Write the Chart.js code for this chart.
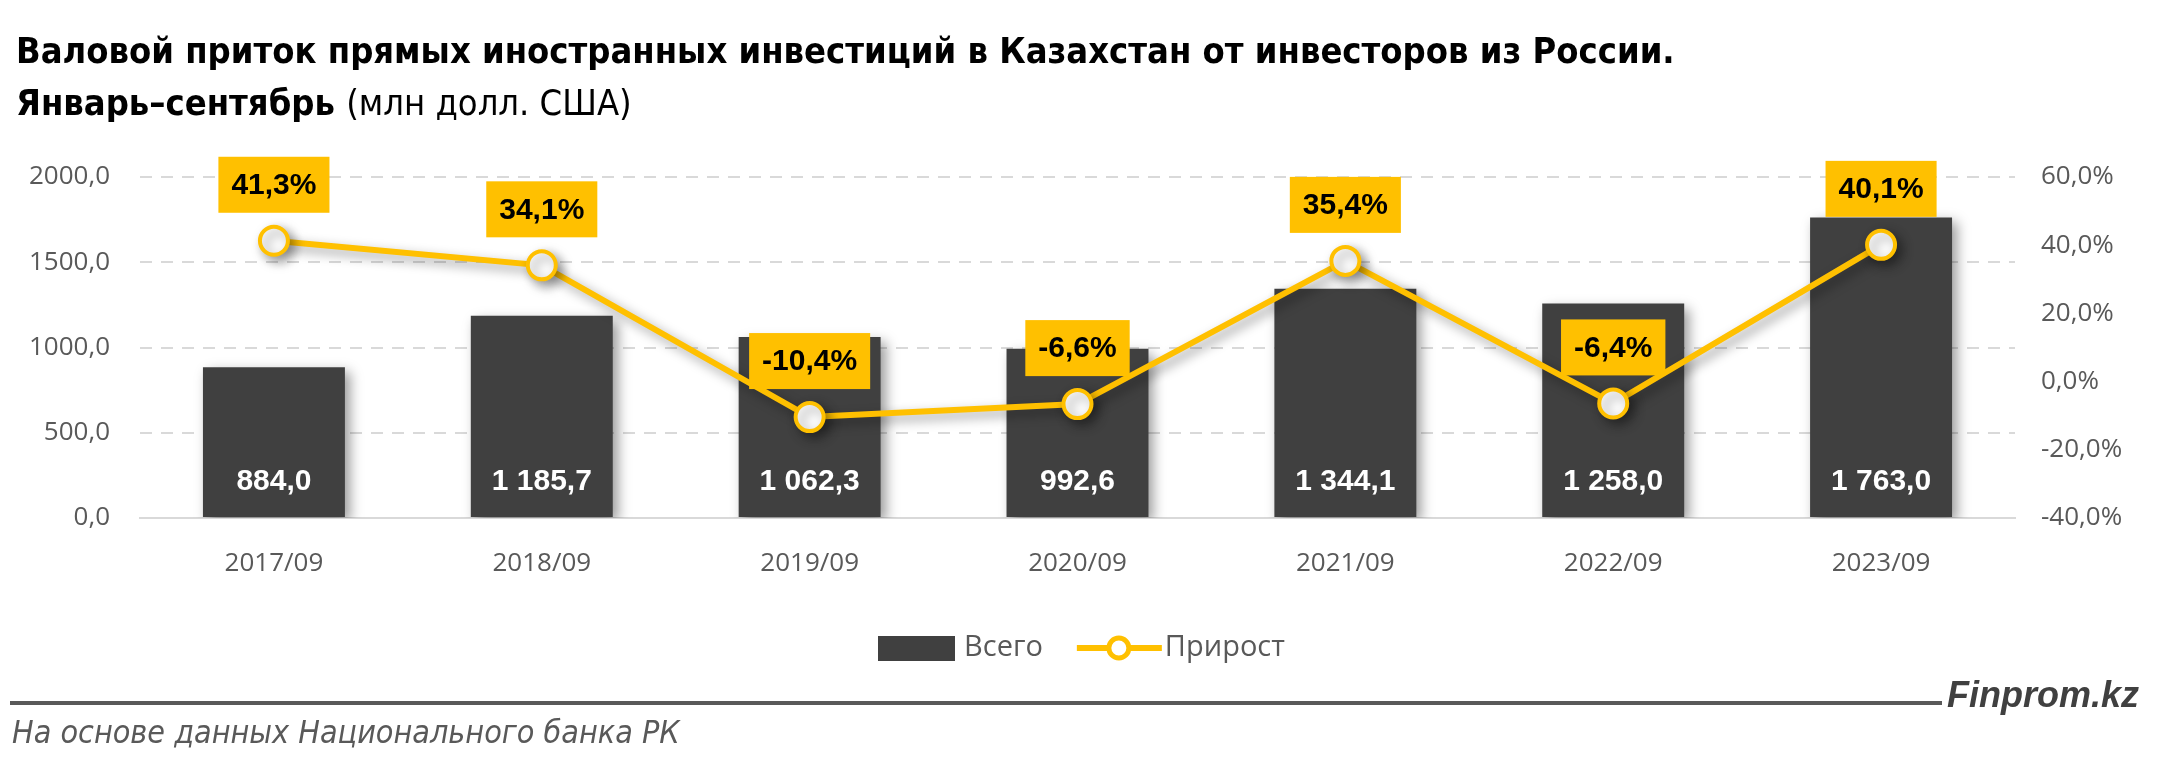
<!DOCTYPE html>
<html>
<head>
<meta charset="utf-8">
<script src="https://cdn.jsdelivr.net/npm/chart.js@4.4.0/dist/chart.umd.min.js"></script>
<style>
html, body { margin: 0; padding: 0; background: #fff; width: 2160px; height: 774px; overflow: hidden; }
#wrap { position: relative; width: 2160px; height: 774px; }
#chart { position: absolute; left: 0; top: 0; }
.title { position: absolute; left: 16px; top: 25px; font-family: "Liberation Sans Narrow", "DejaVu Sans Condensed", sans-serif; font-size: 36px; line-height: 52px; color: #000; font-weight: bold; white-space: nowrap; }
.title .unit { font-weight: normal; }
.rule { position: absolute; left: 10px; top: 701px; width: 1932px; height: 4px; background: #595959; }
.brand { position: absolute; left: 1947px; top: 674px; font-family: "Liberation Sans", sans-serif; font-size: 36px; font-weight: bold; font-style: italic; color: #404040; }
.source { position: absolute; left: 12px; top: 713px; font-family: "Liberation Sans Narrow", "DejaVu Sans Condensed", sans-serif; font-size: 32px; font-style: italic; color: #595959; }
</style>
</head>
<body>
<div id="wrap">
  <canvas id="chart" width="2160" height="774"></canvas>
  <div class="title">Валовой приток прямых иностранных инвестиций в Казахстан от инвесторов из России.<br>Январь–сентябрь <span class="unit">(млн долл. США)</span></div>
  <div class="rule"></div>
  <div class="brand">Finprom.kz</div>
  <div class="source">На основе данных Национального банка РК</div>
</div>
<script>
const periods = ['2017/09', '2018/09', '2019/09', '2020/09', '2021/09', '2022/09', '2023/09'];
const totalInflow = [884.0, 1185.7, 1062.3, 992.6, 1344.1, 1258.0, 1763.0];
const growthPct = [41.3, 34.1, -10.4, -6.6, 35.4, -6.4, 40.1];
const seriesNames = ['Всего', 'Прирост'];

const BAR = '#404040';
const GOLD = '#FFC000';
const GREY_TXT = '#595959';
const AXIS_FONT = { family: '"Open Sans", sans-serif', size: 26 };

const fmtNum = (v, d) => {
    const s = v.toFixed(d).split('.');
    const int = s[0].replace(/\B(?=(\d{3})+(?!\d))/g, ' ');
    return int + (d ? ',' + s[1] : '');
};

// drop shadow on bars and the line, like the Excel original
const shadowPlugin = {
    id: 'shadow',
    beforeDatasetDraw(chart) {
        const ctx = chart.ctx;
        ctx.save();
        ctx.shadowColor = 'rgba(0,0,0,0.4)';
        ctx.shadowBlur = 12;
        ctx.shadowOffsetX = 5;
        ctx.shadowOffsetY = 5;
    },
    afterDatasetDraw(chart) { chart.ctx.restore(); }
};

const labelPlugin = {
    id: 'labels',
    afterDatasetsDraw(chart) {
        const ctx = chart.ctx;
        const bottom = chart.scales.y.bottom;
        ctx.save();
        ctx.textAlign = 'center';
        ctx.textBaseline = 'middle';
        // values inside bars
        ctx.font = 'bold 30px "Liberation Sans", sans-serif';
        ctx.fillStyle = '#fff';
        chart.getDatasetMeta(0).data.forEach((el, i) => {
            ctx.fillText(fmtNum(totalInflow[i], 1), el.x, bottom - 36);
        });
        // growth labels in yellow boxes
        chart.getDatasetMeta(1).data.forEach((el, i) => {
            const txt = fmtNum(growthPct[i], 1) + '%';
            const w = ctx.measureText(txt).width + 26;
            const h = 56;
            const by = el.y - 28 - h;
            ctx.fillStyle = GOLD;
            ctx.fillRect(el.x - w / 2, by, w, h);
            ctx.fillStyle = '#000';
            ctx.fillText(txt, el.x, by + h / 2 + 1);
        });
        ctx.restore();
    }
};

const legendPlugin = {
    id: 'customLegend',
    afterDraw(chart) {
        const ctx = chart.ctx;
        const y = chart.chartArea.bottom + 130;
        let x = 878;
        ctx.save();
        ctx.font = '29px "Open Sans", sans-serif';
        ctx.textBaseline = 'middle';
        ctx.fillStyle = BAR;
        ctx.fillRect(x, y - 12, 77, 25);
        x += 86;
        ctx.fillStyle = GREY_TXT;
        ctx.fillText(seriesNames[0], x, y);
        x += ctx.measureText(seriesNames[0]).width + 34;
        ctx.strokeStyle = GOLD;
        ctx.lineWidth = 6;
        ctx.beginPath(); ctx.moveTo(x, y); ctx.lineTo(x + 85, y); ctx.stroke();
        ctx.beginPath(); ctx.arc(x + 42, y, 10, 0, Math.PI * 2);
        ctx.fillStyle = '#fff'; ctx.fill();
        ctx.lineWidth = 5; ctx.stroke();
        x += 88;
        ctx.fillStyle = GREY_TXT;
        ctx.fillText(seriesNames[1], x, y);
        ctx.restore();
    }
};

new Chart(document.getElementById('chart'), {
    data: {
        labels: periods,
        datasets: [
            {
                type: 'bar',
                label: seriesNames[0],
                data: totalInflow,
                backgroundColor: BAR,
                yAxisID: 'y',
                barPercentage: 0.53,
                categoryPercentage: 1,
                order: 2
            },
            {
                type: 'line',
                label: seriesNames[1],
                data: growthPct,
                borderColor: GOLD,
                borderWidth: 6,
                pointRadius: 14,
                pointBorderWidth: 4,
                pointBackgroundColor: '#fff',
                pointBorderColor: GOLD,
                tension: 0,
                yAxisID: 'y2',
                order: 1
            }
        ]
    },
    options: {
        responsive: false,
        animation: false,
        layout: { padding: { top: 177, bottom: 176, left: 0, right: 0 } },
        plugins: { legend: { display: false }, tooltip: { enabled: false } },
        scales: {
            x: {
                grid: { display: false, drawTicks: false },
                border: { display: true, color: '#d9d9d9', width: 2 },
                ticks: { color: GREY_TXT, font: AXIS_FONT, padding: 30 },
                afterFit: (s) => { s.height = 80; }
            },
            y: {
                position: 'left',
                min: 0, max: 2000,
                ticks: { stepSize: 500, color: GREY_TXT, font: AXIS_FONT, padding: 30,
                    callback: (v) => v.toFixed(1).replace('.', ',') },
                grid: { color: '#d9d9d9', lineWidth: 2, drawTicks: false },
                border: { display: false, dash: [12, 9] },
                afterFit: (s) => { s.width = 140; }
            },
            y2: {
                position: 'right',
                min: -40, max: 60,
                ticks: { stepSize: 20, color: GREY_TXT, font: AXIS_FONT, padding: 26,
                    callback: (v) => v.toFixed(1).replace('.', ',') + '%' },
                grid: { display: false, drawTicks: false },
                border: { display: false },
                afterFit: (s) => { s.width = 145; }
            }
        }
    },
    plugins: [shadowPlugin, labelPlugin, legendPlugin]
});
</script>
</body>
</html>
